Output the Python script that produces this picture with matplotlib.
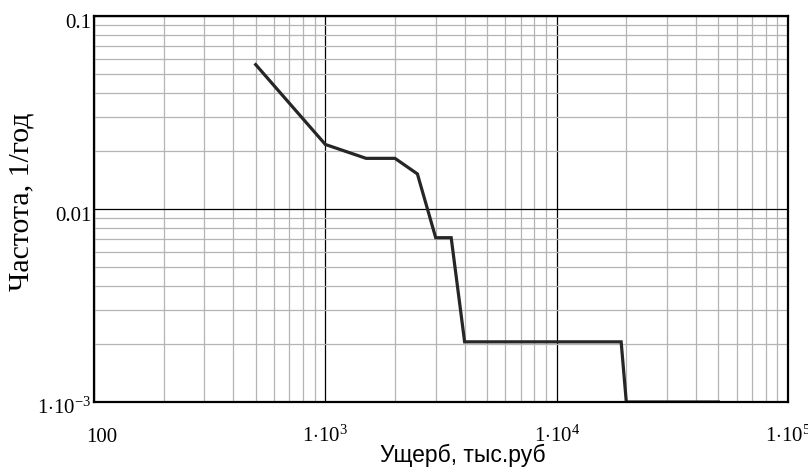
import matplotlib
matplotlib.use("Agg")
import matplotlib.pyplot as plt
import matplotlib.transforms as mtransforms
from matplotlib.ticker import LogLocator, NullFormatter, FixedLocator

# Data
damage = [500, 1000, 1500, 2000, 2500, 3000, 3500, 4000, 19000, 20000, 50000]
freq = [0.056, 0.0216, 0.0183, 0.0183, 0.0152, 0.0071, 0.0071, 0.00205, 0.00205, 0.001, 0.001]

x_ticks = [100, 1e3, 1e4, 1e5]
x_ticklabels = ["100", r"$1{\cdot}10^{3}$", r"$1{\cdot}10^{4}$", r"$1{\cdot}10^{5}$"]
y_ticks = [1e-3, 1e-2, 1e-1]
y_ticklabels = [r"$1{\cdot}10^{-3}$", "0.01", "0.1"]

plt.rcParams["mathtext.fontset"] = "custom"
plt.rcParams["mathtext.rm"] = "Liberation Serif"
plt.rcParams["mathtext.it"] = "Liberation Serif"
plt.rcParams["font.family"] = ["Liberation Serif", "DejaVu Serif"]

fig = plt.figure(figsize=(8.08, 4.71), dpi=100)
ax = fig.add_axes([94/808, 1-402/471, (788-94)/808, (402-16)/471])
ax.set_xscale("log")
ax.set_yscale("log")
ax.set_xlim(100, 1e5)
ax.set_ylim(1e-3, 0.1)

ax.xaxis.set_minor_locator(LogLocator(base=10, subs=range(2, 10)))
ax.yaxis.set_minor_locator(LogLocator(base=10, subs=range(2, 10)))
ax.xaxis.set_minor_formatter(NullFormatter())
ax.yaxis.set_minor_formatter(NullFormatter())
ax.grid(which="minor", color="#b4b4b4", linewidth=0.9)
ax.grid(which="major", color="#000000", linewidth=0.9)
ax.set_axisbelow(True)

ax.xaxis.set_major_locator(FixedLocator(x_ticks))
ax.set_xticklabels(x_ticklabels, fontsize=15)
ax.yaxis.set_major_locator(FixedLocator(y_ticks))
ax.set_yticklabels(y_ticklabels, fontsize=15)
ax.tick_params(which="both", length=0)
ax.tick_params(axis="x", pad=28.5)
ax.tick_params(axis="y", pad=2)

for i, lbl in enumerate(ax.get_xticklabels()):
    lbl.set_verticalalignment("baseline")
    if i == 0:
        lbl.set_transform(lbl.get_transform() + mtransforms.ScaledTranslation(8/100, 0, fig.dpi_scale_trans))
for lbl in ax.get_yticklabels():
    lbl.set_verticalalignment("baseline")
    lbl.set_transform(lbl.get_transform() + mtransforms.ScaledTranslation(0, -12/100, fig.dpi_scale_trans))

for s in ax.spines.values():
    s.set_linewidth(1.6)
    s.set_color("black")

ax.plot(damage, freq, color="#262626", linewidth=2.3, solid_joinstyle="miter")

ax.set_ylabel("Частота, 1/год", fontsize=21.5)
ax.yaxis.set_label_coords((35-94)/694, (402-201.5)/386)
ax.set_xlabel("Ущерб, тыс.руб", fontsize=16.5, family=["Liberation Sans", "DejaVu Sans"])
ax.xaxis.set_label_coords((462.5-94)/694, (402-444)/386)

fig.savefig("out.png", dpi=100)
